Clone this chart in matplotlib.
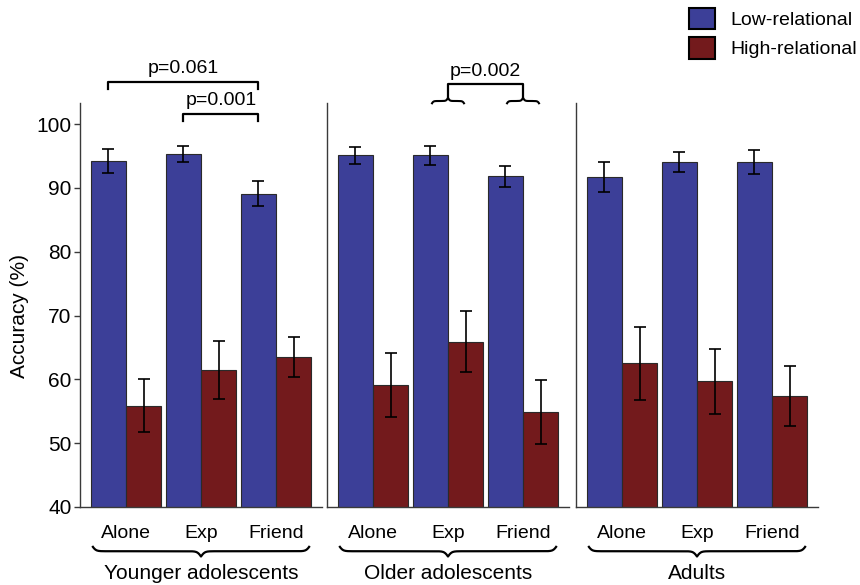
import numpy as np
import matplotlib.pyplot as plt

plt.rcParams['font.family'] = ['Liberation Sans', 'DejaVu Sans']

# values (accuracy %, mean and error bar half-length)
groups = ["Younger adolescents", "Older adolescents", "Adults"]
conditions = ["Alone", "Exp", "Friend"]
low_mean = [[94.2, 95.3, 89.1], [95.1, 95.1, 91.8], [91.7, 94.1, 94.1]]
low_err = [[1.9, 1.3, 2.0], [1.3, 1.45, 1.7], [2.4, 1.6, 1.9]]
high_mean = [[55.9, 61.5, 63.5], [59.1, 65.9, 54.9], [62.5, 59.7, 57.4]]
high_err = [[4.1, 4.5, 3.2], [5.0, 4.75, 5.0], [5.75, 5.1, 4.75]]
series = ["Low-relational", "High-relational"]
yticks = [40, 50, 60, 70, 80, 90, 100]

blue = '#3c3f98'
red = '#731a1c'
spine_col = '#3a3a3a'
W, H = 860, 585


def brace(ax, x0, x1, y, h, trans, k=0.025, lw=1.6):
    # curly brace: y is the level of the ends, h signed (tip direction)
    x = np.linspace(x0, x1, 401)
    half = (x1 - x0) / 2
    s = np.minimum(x - x0, x1 - x)
    sig = lambda v: 1 / (1 + np.exp(-v))
    f = sig(s / k) + sig((s - half) / k) - 0.5
    f = f - f[0]
    f = f / f.max()
    ax.plot(x, y + h * f, color='black', lw=lw, transform=trans,
            clip_on=False, solid_capstyle='butt')


def pix2y(py):
    return 40 + (507 - py) / 6.38


fig = plt.figure(figsize=(W / 100, H / 100), dpi=100)
lefts = [80, 327, 576]
axes = []
w = 0.467
for g, left in enumerate(lefts):
    ax = fig.add_axes([left / W, (H - 507) / H, 242 / W, 404 / H])
    axes.append(ax)
    x = np.arange(len(conditions))
    b1 = ax.bar(x - w / 2, low_mean[g], w, color=blue, edgecolor='#2a2a2a',
                linewidth=0.8, label=series[0])
    b2 = ax.bar(x + w / 2, high_mean[g], w, color=red, edgecolor='#2a2a2a',
                linewidth=0.8, label=series[1])
    ax.errorbar(x - w / 2, low_mean[g], yerr=low_err[g], fmt='none',
                ecolor='black', elinewidth=1.2, capsize=4, capthick=1.2)
    ax.errorbar(x + w / 2, high_mean[g], yerr=high_err[g], fmt='none',
                ecolor='black', elinewidth=1.2, capsize=4, capthick=1.2)
    ax.set_xlim(-0.613, 2.613)
    ax.set_ylim(40, 103.3)
    ax.set_xticks(x)
    ax.set_xticklabels(conditions, fontsize=14)
    ax.tick_params(axis='x', length=0, pad=13)
    for sp in ['top', 'right']:
        ax.spines[sp].set_visible(False)
    for sp in ['left', 'bottom']:
        ax.spines[sp].set_color(spine_col)
        ax.spines[sp].set_linewidth(1.0)
    if g == 0:
        ax.set_yticks(yticks)
        ax.tick_params(axis='y', labelsize=15, length=4, width=1.0,
                       color=spine_col, pad=2)
    else:
        ax.set_yticks([])
    # group brace and label below the condition labels
    tr = ax.get_xaxis_transform()
    brace(ax, -0.45, 2.45, -0.0965, -0.026, tr)
    ax.text(1, -0.165, groups[g], transform=tr, ha='center', va='center',
            fontsize=15)

fig.text(20 / W, 1 - 316 / H, "Accuracy (%)", rotation=90, ha='center',
         va='center', fontsize=15)

# significance brackets
ax = axes[0]
xa, xf, xe = -w / 2, 2 - w / 2, 1 - w / 2
y1, y1e = pix2y(81.7), pix2y(89.3)
ax.plot([xa, xa, xf, xf], [y1e, y1, y1, y1e], color='black', lw=1.6,
        clip_on=False)
ax.text((xa + xf) / 2, y1 + 0.7, "p=0.061", ha='center', va='bottom',
        fontsize=14)
y2, y2e = pix2y(114), pix2y(120.7)
ax.plot([xe, xe, xf, xf], [y2e, y2, y2, y2e], color='black', lw=1.6,
        clip_on=False)
ax.text((xe + xf) / 2, y2 + 0.7, "p=0.001", ha='center', va='bottom',
        fontsize=14)

ax = axes[1]
y3 = pix2y(84.3)
yb = pix2y(104.3)
yt = pix2y(98.0)
for xc in [1, 2]:
    brace(ax, xc - 0.22, xc + 0.22, yb, yt - yb, ax.transData, k=0.012,
          lw=1.5)
ax.plot([1, 1, 2, 2], [yt, y3, y3, yt], color='black', lw=1.6, clip_on=False)
ax.text(1.5, y3 + 0.7, "p=0.002", ha='center', va='bottom', fontsize=14)

handles = [axes[0].containers[0], axes[0].containers[1]]
leg = fig.legend(handles, series, loc='upper right',
                 bbox_to_anchor=(857 / W, 1 - 8 / H), frameon=False,
                 fontsize=14, handlelength=1.34, handleheight=1.3,
                 handletextpad=0.8, labelspacing=0.42, borderpad=0,
                 borderaxespad=0)
for p in leg.get_patches():
    p.set_edgecolor('black')
    p.set_linewidth(1.5)

fig.savefig('out.png', dpi=100)
